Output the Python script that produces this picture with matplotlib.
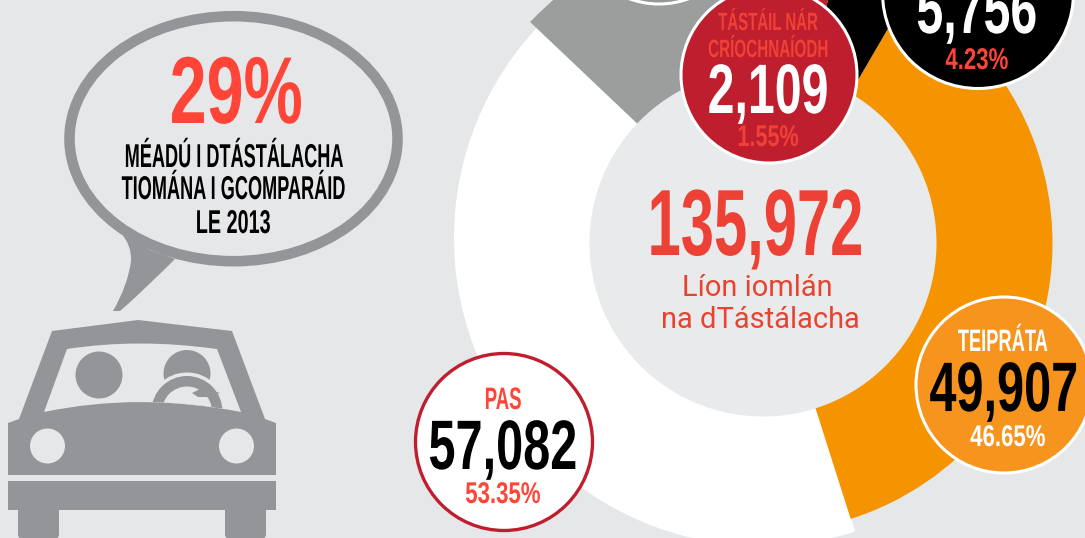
import matplotlib
matplotlib.use("Agg")
import matplotlib.pyplot as plt
import matplotlib.patheffects as pe
from matplotlib.patches import Circle, Ellipse, Polygon, PathPatch, FancyBboxPatch, Rectangle
from matplotlib.path import Path
from matplotlib.transforms import Affine2D

# pas, teip, 5,756 group, neamhchriochnaithe, liath (lipead gearrtha den bharr)
slice_names = ["pas", "teip", "black", "red", "grey"]
slice_values = [57082, 49907, 5756, 2109, 21118]
slice_colors = ["#ffffff", "#f59300", "#000000", "#be1e2d", "#9c9e9d"]
total_tests = 135972
pass_pct = "53.35%"
fail_pct = "46.65%"
black_pct = "4.23%"
red_pct = "1.55%"
increase = "29%"

W, H = 1085, 538
BG = "#e6e7e8"
GREY = "#939598"
RED = "#ff4438"


class Squeeze(pe.AbstractPathEffect):
	# the font has no condensed cut, so narrow each line about its own centre
	def __init__(self, sx):
		self.sx = sx

	def draw_path(self, renderer, gc, tpath, affine, rgbFace=None):
		box = tpath.get_extents()
		cx = (box.x0 + box.x1) / 2
		t = Affine2D().translate(-cx, 0).scale(self.sx, 1).translate(cx, 0)
		renderer.draw_path(gc, tpath, t + affine, rgbFace)


def lab(x, y, s, px, color, sx=0.7):
	ax.text(x, y, s, fontsize=px * 0.72, color=color, ha="center", va="baseline",
		family="Liberation Sans", fontweight="bold", path_effects=[Squeeze(sx)], zorder=10)


fig = plt.figure(figsize=(W / 100, H / 100), dpi=100, facecolor=BG)
ax = fig.add_axes([0, 0, 1, 1])

# y axis is flipped below, so angles run the other way round
wedges, _ = ax.pie(slice_values, colors=slice_colors, startangle=-136.5, counterclock=False,
	center=(763, 243), radius=289.5, frame=True)
wedges[0].set_center((762, 238))
wedges[0].set_radius(308)
wedges[4].set_radius(321)

ax.set_xlim(0, W)
ax.set_ylim(H, 0)
ax.axis("off")

ax.add_patch(Circle((763, 243), 173.5, fc="#e9eaeb", ec="none", zorder=3))

# label circles
ax.add_patch(Circle((659, -82), 86, fc="#949699", ec="white", lw=2.2, zorder=4))
ax.add_patch(Circle((769, 75), 88, fc="#be1e2d", ec="white", lw=2.2, zorder=4))
ax.add_patch(Circle((978, -7), 95.5, fc="#000000", ec="white", lw=2.2, zorder=4))
ax.add_patch(Circle((1004, 385), 88, fc="#f7941e", ec="white", lw=2.2, zorder=4))
ax.add_patch(Circle((504, 442), 88.5, fc="white", ec="#be1e2d", lw=2.4, zorder=4))

lab(755, 255, f"{total_tests:,}", 94, "#ee4136", 0.635)
ax.text(757, 296, "Líon iomlán", fontsize=29 * 0.72, color="#e8432f", ha="center", va="baseline",
	family="Roboto", zorder=10)
ax.text(760, 328, "na dTástálacha", fontsize=29 * 0.72, color="#e8432f", ha="center", va="baseline",
	family="Roboto", zorder=10)

lab(768, 30, "TÁSTÁIL NÁR", 25, "#ef4136", 0.6)
lab(768, 57, "CRÍOCHNAÍODH", 25, "#ef4136", 0.61)
lab(768, 113, f"{slice_values[3]:,}", 70, "white", 0.69)
lab(768, 146, red_pct, 30, "#ef4136", 0.72)

lab(977, 33, f"{slice_values[2]:,}", 70, "white", 0.69)
lab(977, 69, black_pct, 30, RED, 0.74)

lab(1003, 351, "TEIPRÁTA", 31, "white", 0.59)
lab(1004, 411, f"{slice_values[1]:,}", 70, "black", 0.695)
lab(1008, 446, fail_pct, 30, "white", 0.74)

lab(503, 409, "PAS", 31, RED, 0.6)
lab(503, 469, f"{slice_values[0]:,}", 70, "black", 0.695)
lab(503, 503, pass_pct, 30, RED, 0.74)

# speech bubble
tail = Path([(120, 232), (132, 245), (131, 261), (128, 285), (113, 311), (120, 311), (128, 304),
	(150, 284), (175, 259), (150, 250), (120, 232)],
	[Path.MOVETO, Path.CURVE3, Path.CURVE3, Path.CURVE3, Path.CURVE3, Path.LINETO, Path.LINETO,
	Path.CURVE3, Path.CURVE3, Path.LINETO, Path.CLOSEPOLY])
ax.add_patch(PathPatch(tail, fc=GREY, ec="none", zorder=2))
ax.add_patch(Ellipse((233.5, 138.7), 328, 245, fc=BG, ec=GREY, lw=7.6, zorder=2))

lab(236, 123, increase, 95, RED, 0.70)
lab(234, 167, "MÉADÚ I DTÁSTÁLACHA", 33, "black", 0.55)
lab(234, 199, "TIOMÁNA I GCOMPARÁID", 33, "black", 0.55)
lab(233, 233, "LE 2013", 33, "black", 0.6)

# car
body = Path([(52, 331), (138, 320), (232, 331), (265, 419), (276, 423), (276, 475), (8, 475),
	(8, 423), (19, 419), (52, 331)])
ax.add_patch(PathPatch(body, fc=GREY, ec="none", zorder=2))
window = Path([(67, 349), (138, 338), (217, 349), (241, 412), (140, 392), (44, 412), (67, 349)],
	[Path.MOVETO, Path.CURVE3, Path.CURVE3, Path.LINETO, Path.CURVE3, Path.CURVE3, Path.CLOSEPOLY])
win_patch = PathPatch(window, fc=BG, ec="none", zorder=2.1)
ax.add_patch(win_patch)

ax.add_patch(Circle((99, 375), 23.5, fc=GREY, ec="none", zorder=2.2))
wheel_parts = [
	Circle((187, 373.5), 23.5, fc=GREY, ec="none", zorder=2.2),
	Circle((187, 411.5), 39, fc=BG, ec="none", zorder=2.3),
	Circle((187, 411.5), 35.5, fc=GREY, ec="none", zorder=2.4),
	Circle((187, 411.5), 25, fc=BG, ec="none", zorder=2.5),
	Polygon([(200, 387), (220, 393), (212, 395), (210, 397), (198, 397), (192, 393), (198, 390)],
		fc=GREY, ec="none", zorder=2.6),
]
for part in wheel_parts:
	ax.add_patch(part)
	part.set_clip_path(win_patch)

ax.add_patch(Circle((47.5, 446), 17.5, fc=BG, ec="none", zorder=2.2))
ax.add_patch(Circle((236.5, 446), 17.5, fc=BG, ec="none", zorder=2.2))
ax.add_patch(Rectangle((8, 481), 268, 29, fc=GREY, ec="none", zorder=2))
ax.add_patch(FancyBboxPatch((18, 505), 41, 34, boxstyle="round,pad=0,rounding_size=5", fc=GREY, ec="none", zorder=2))
ax.add_patch(FancyBboxPatch((225, 505), 41, 34, boxstyle="round,pad=0,rounding_size=5", fc=GREY, ec="none", zorder=2))

fig.savefig("out.png", dpi=100, facecolor=BG)
